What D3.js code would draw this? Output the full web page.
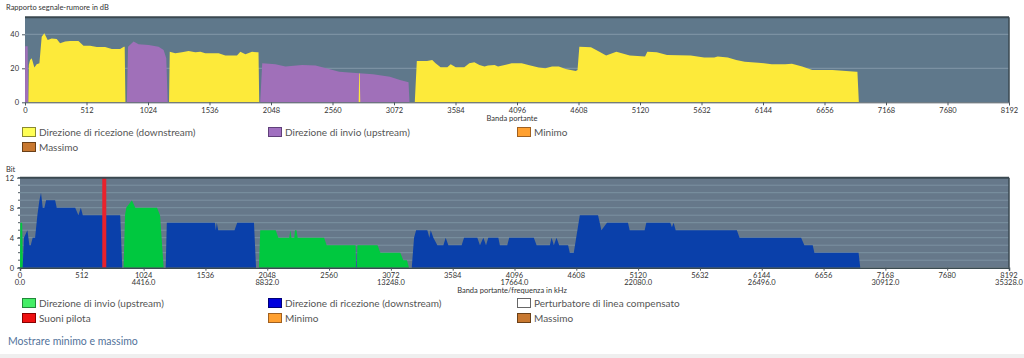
<!DOCTYPE html>
<html><head><meta charset="utf-8">
<script src="https://cdn.jsdelivr.net/npm/d3@7"></script>
<style>
html,body{margin:0;padding:0;background:#fff;}
svg{display:block;}
text{font-family:Lato,"Noto Sans",sans-serif;}
</style></head>
<body>
<svg id="c" width="1024" height="358"></svg>
<script>
// ---------- DATA ----------
const toneTicks = [0,512,1024,1536,2048,2560,3072,3584,4096,4608,5120,5632,6144,6656,7168,7680,8192];
const freqTickLabels = ["0.0","","4416.0","","8832.0","","13248.0","","17664.0","","22080.0","","26496.0","","30912.0","","35328.0"];
const snrTicks = [0,20,40];
const bitTicks = [0,4,8,12];

// SNR (dB) per tone: [tone, dB]
const snrUpstream = [
  [0,0],[2,33],[22,33],[27,0],
  [848,0],[858,32.7],[904,35.7],[945,34.1],[1029,33.7],[1112,32.7],[1154,30.8],[1176,25.9],[1188,0],
  [1958,0],[1975,22.9],[2085,22.4],[2168,21.0],[2307,22.0],[2419,21.6],[2530,19.6],[2616,18.0],[2697,17.6],
  [2897,16.5],[3038,15.1],[3122,13.1],[3193,11.8],[3201,0]
];
const snrDownstream = [
  [28,0],[32,22],[42,24.9],[56,25.9],[78,20.4],[97,22.4],[120,22.9],[139,38.6],[161,40.6],[189,36.7],
  [222,37.6],[264,37.3],[292,34.7],[334,35.7],[375,36.1],[445,36.1],[487,33.3],[542,33.3],[598,32.5],
  [667,32.5],[723,31.4],[792,31.4],[823,32.7],[830,32.7],[836,0],
  [1199,0],[1205,29.8],[1251,28.8],[1307,29.4],[1362,30.2],[1418,29.4],[1460,29.8],[1501,28.8],[1612,28.8],
  [1668,27.5],[1765,27.5],[1793,29.8],[1835,28.2],[1890,29.8],[1932,29.4],[1944,29.4],[1950,0],
  [2778,0],[2782,17],[2787,17],[2791,0],
  [3245,0],[3262,24.3],[3347,24.3],[3390,24.9],[3418,22.9],[3460,20.6],[3516,20.6],[3544,22.4],[3586,20.6],
  [3657,20.6],[3699,22.9],[3741,23.5],[3783,22.0],[3826,21.0],[3854,21.6],[3910,22.0],[3938,21.0],[3994,22.0],
  [4051,22.9],[4135,22.9],[4191,22.0],[4276,20.4],[4332,20.0],[4388,21.0],[4444,21.0],[4501,19.6],[4585,18.4],
  [4600,19.0],[4615,32.7],[4712,32.4],[4782,29.8],[4838,27.5],[4923,29.8],[5035,27.5],[5162,26.9],[5181,29.8],
  [5260,29.4],[5345,27.8],[5542,27.5],[5654,26.3],[5738,26.3],[5767,26.9],[5851,26.3],[5921,24.9],[5992,23.9],
  [6104,23.3],[6217,22.4],[6329,22.4],[6385,22.7],[6470,21.0],[6554,19.0],[6723,19.0],[6835,18.4],[6920,18.0],
  [6930,18.0],[6942,0]
];

// Bit loading per tone: [tone, bits]
const bitsUpstream = [
  [0,0],[3,6],[18,6],[24,0],
  [858,0],[870,7],[880,8],[927,9],[955,8],[1135,8],[1160,7],[1190,0],
  [1979,0],[1990,5],[2118,5],[2140,4],[2230,4],[2240,5],[2248,4],[2272,4],[2278,5],[2290,5],[2300,4],
  [2519,4],[2540,3],[2780,3],[2783,0],[2790,0],[2795,3],[2962,3],[2985,2],[3150,2],[3175,1],[3205,1],[3222,0]
];
const bitsDownstream = [
  [22,0],[33,4],[61,5],[78,3],[89,3],[105,4],[125,4],[144,7],[161,9],[174,10],[188,8],[202,8],[216,9],
  [291,9],[304,8],[457,8],[484,7],[504,8],[520,7],[830,7],[847,0],
  [1207,0],[1216,6],[1614,6],[1622,5],[1630,6],[1642,5],[1777,5],[1799,6],[1938,6],[1955,0],
  [2783,0],[2785,3],[2788,0],
  [3245,0],[3264,4],[3281,5],[3374,5],[3391,4],[3402,5],[3424,4],[3457,3],[3507,3],[3526,4],[3548,3],
  [3658,3],[3678,4],[3788,4],[3810,3],[3838,4],[3860,3],[3879,4],[3962,4],[3975,3],[4036,3],[4052,4],
  [4256,4],[4279,3],[4389,3],[4403,4],[4422,3],[4444,4],[4466,3],[4540,3],[4554,2],[4587,2],[4637,7],
  [4788,7],[4816,5],[4862,6],[5036,6],[5050,5],[5174,5],[5188,6],[5386,6],[5400,5.4],[5414,6],[5431,5],
  [5938,5],[5960,4],[6470,4],[6497,3],[6566,3],[6580,2],[6946,2],[6960,0]
];
const pilotTones = [698];

const snrLegend = ["Direzione di ricezione (downstream)","Direzione di invio (upstream)","Minimo","Massimo"];
const snrLegendColors = [["#ffff55","#8a8a30"],["#a070c0","#60407a"],["#ffa030","#a06020"],["#c87830","#6a4018"]];
const bitLegend = ["Direzione di invio (upstream)","Direzione di ricezione (downstream)","Perturbatore di linea compensato","Suoni pilota","Minimo","Massimo"];
const bitLegendColors = [["#44ee66","#22883a"],["#0000dd","#000077"],["#ffffff","#666666"],["#ee1111","#880000"],["#ffa030","#a06020"],["#c87830","#6a4018"]];

// ---------- DRAW ----------
const svg = d3.select("#c");
const BG1 = "#5f788b", BG2 = "#66788a", GRID = "#8298a8", FRAME = "#3a4850";

function legend(items, colors, y0){
  const cols = [22,268,517];
  const g = svg.append("g");
  items.forEach((t,i)=>{
    const cx = cols[i%3], cy = y0 + Math.floor(i/3)*15;
    g.append("rect").attr("x",cx+0.5).attr("y",cy-4.5).attr("width",13).attr("height",9)
      .attr("fill",colors[i][0]).attr("stroke",colors[i][1]).attr("stroke-width",1);
    g.append("text").attr("x",cx+17).attr("y",cy+3.5).attr("font-size",10).attr("fill","#555").text(t);
  });
}

// Top chart
{
  const x = d3.scaleLinear().domain([0,8192]).range([25,1009]);
  const y = d3.scaleLinear().domain([0,50]).range([102.3,17.3]);
  svg.append("text").attr("x",6).attr("y",10).attr("font-size",7.5).attr("fill","#333").text("Rapporto segnale-rumore in dB");
  svg.append("rect").attr("x",x(0)).attr("y",y(50)).attr("width",x(8192)-x(0)).attr("height",y(0)-y(50)).attr("fill",BG1);
  svg.append("g").selectAll("line").data([20,40]).join("line")
    .attr("x1",x(0)).attr("x2",x(8192)).attr("y1",d=>y(d)).attr("y2",d=>y(d))
    .attr("stroke",GRID).attr("stroke-width",1);
  const area = d3.area().x(d=>x(d[0])).y0(y(0)).y1(d=>y(d[1]));
  svg.append("path").datum(snrUpstream).attr("d",area).attr("fill","#a070b9");
  svg.append("path").datum(snrDownstream).attr("d",area).attr("fill","#fdea3a");
  svg.append("line").attr("x1",x(0)).attr("x2",x(8192)).attr("y1",y(50)).attr("y2",y(50)).attr("stroke",FRAME).attr("stroke-width",2);
  svg.append("line").attr("x1",x(8192)).attr("x2",x(8192)).attr("y1",y(50)).attr("y2",y(0)).attr("stroke",FRAME).attr("stroke-width",1.5);
  const ax = svg.append("g").attr("transform",`translate(0,${y(0)})`)
    .call(d3.axisBottom(x).tickValues(toneTicks).tickSize(3).tickFormat(d=>d));
  ax.select(".domain").attr("stroke","#4a565e");
  ax.selectAll("line").attr("stroke","#4a565e");
  ax.selectAll("text").attr("font-size",7.5).attr("fill","#333").attr("font-family","Lato,sans-serif").attr("dy","0.6em");
  const ay = svg.append("g").attr("transform",`translate(${x(0)},0)`)
    .call(d3.axisLeft(y).tickValues(snrTicks).tickSize(3));
  ay.select(".domain").remove();
  ay.selectAll("line").attr("stroke","#4a565e");
  ay.selectAll("text").attr("font-size",7.5).attr("fill","#333").attr("font-family","Lato,sans-serif");
  svg.append("text").attr("x",512).attr("y",121).attr("text-anchor","middle").attr("font-size",7.5).attr("fill","#333").text("Banda portante");
  legend(snrLegend, snrLegendColors, 132);
}

// Bottom chart
{
  const x = d3.scaleLinear().domain([0,8192]).range([20,1009]);
  const y = d3.scaleLinear().domain([0,12]).range([267.7,177.7]);
  svg.append("text").attr("x",6).attr("y",172).attr("font-size",7.5).attr("fill","#333").text("Bit");
  svg.append("rect").attr("x",x(0)).attr("y",y(12)).attr("width",x(8192)-x(0)).attr("height",y(0)-y(12)).attr("fill",BG2);
  svg.append("g").selectAll("line").data(d3.range(1,12)).join("line")
    .attr("x1",x(0)).attr("x2",x(8192)).attr("y1",d=>y(d)).attr("y2",d=>y(d))
    .attr("stroke",GRID).attr("stroke-width",0.8);
  const area = d3.area().x(d=>x(d[0])).y0(y(0)).y1(d=>y(d[1]));
  svg.append("path").datum(bitsUpstream).attr("d",area).attr("fill","#00c83f");
  svg.append("path").datum(bitsDownstream).attr("d",area).attr("fill","#0a40aa");
  svg.append("g").selectAll("line").data(pilotTones).join("line")
    .attr("x1",d=>x(d)).attr("x2",d=>x(d)).attr("y1",y(12)).attr("y2",y(0))
    .attr("stroke","#e8222c").attr("stroke-width",4);
  svg.append("line").attr("x1",x(0)).attr("x2",x(8192)).attr("y1",y(12)).attr("y2",y(12)).attr("stroke",FRAME).attr("stroke-width",2);
  svg.append("line").attr("x1",x(8192)).attr("x2",x(8192)).attr("y1",y(12)).attr("y2",y(0)).attr("stroke",FRAME).attr("stroke-width",1.5);
  const ax = svg.append("g").attr("transform",`translate(0,${y(0)})`)
    .call(d3.axisBottom(x).tickValues(toneTicks).tickSize(3).tickFormat(""));
  ax.select(".domain").attr("stroke","#3a4a50").attr("stroke-width",1.5);
  ax.selectAll("line").attr("stroke","#4a565e");
  const lab = svg.append("g").selectAll("text").data(toneTicks).join("text")
    .attr("x",d=>x(d)).attr("y",y(0)+10).attr("text-anchor","middle")
    .attr("font-size",7.5).attr("fill","#333");
  lab.append("tspan").attr("x",d=>x(d)).attr("dy",0).text(d=>d);
  lab.append("tspan").attr("x",d=>x(d)).attr("dy",7.5).text((d,i)=>freqTickLabels[i]);
  const ay = svg.append("g").attr("transform",`translate(${x(0)},0)`)
    .call(d3.axisLeft(y).tickValues(bitTicks).tickSize(3));
  ay.select(".domain").remove();
  ay.selectAll("line").attr("stroke","#4a565e");
  ay.selectAll("text").attr("font-size",7.5).attr("fill","#333").attr("font-family","Lato,sans-serif");
  svg.append("g").selectAll("line").data(d3.range(0,13)).join("line")
    .attr("x1",x(0)-2).attr("x2",x(0)).attr("y1",d=>y(d)).attr("y2",d=>y(d)).attr("stroke","#4a565e");
  svg.append("text").attr("x",512).attr("y",293).attr("text-anchor","middle").attr("font-size",7.5).attr("fill","#333").text("Banda portante/frequenza in kHz");
  legend(bitLegend, bitLegendColors, 303);
}

svg.append("text").attr("x",8).attr("y",345).attr("font-size",10.5).attr("fill","#52729a").text("Mostrare minimo e massimo");
svg.append("rect").attr("x",0).attr("y",354).attr("width",1024).attr("height",4).attr("fill","#efefef");
</script>
</body></html>
